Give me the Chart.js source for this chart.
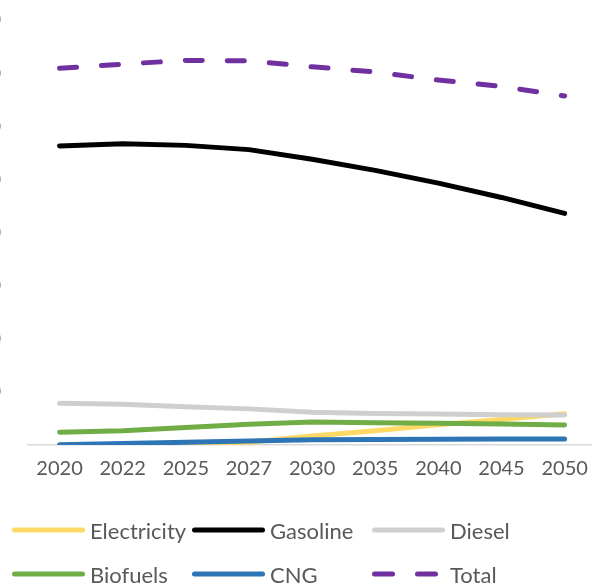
<!DOCTYPE html>
<html>
<head>
<meta charset="utf-8">
<script src="https://cdn.jsdelivr.net/npm/chart.js@4/dist/chart.umd.min.js"></script>
<style>
  html, body { margin: 0; padding: 0; background: #fff; overflow: hidden; }
  body { width: 592px; height: 583px; position: relative; }
  #wrap { position: absolute; left: -40px; top: 0; width: 640px; height: 490px; }
  #legend { position: absolute; left: 0; top: 0; width: 592px; height: 583px; pointer-events: none; }
  .item { position: absolute; display: flex; align-items: center; height: 30px;
          font-family: Lato, "Liberation Sans", sans-serif; font-size: 22px; color: #595959; }
  .item svg { display: block; margin-right: 5px; }
</style>
</head>
<body>
<div id="wrap"><canvas id="chart_fuel"></canvas></div>
<div id="legend"></div>
<script>
const years = ["2020", "2022", "2025", "2027", "2030", "2035", "2040", "2045", "2050"];
const electricity = [0, 0.05, 0.2, 0.5, 1.7, 2.7, 3.8, 4.8, 5.9];
const gasoline = [56.3, 56.7, 56.4, 55.6, 53.8, 51.7, 49.3, 46.6, 43.6];
const diesel = [7.85, 7.65, 7.2, 6.8, 6.15, 5.95, 5.85, 5.7, 5.65];
const biofuels = [2.4, 2.7, 3.3, 3.9, 4.35, 4.2, 4.1, 3.95, 3.75];
const cng = [0.05, 0.3, 0.5, 0.75, 1.0, 1.05, 1.1, 1.13, 1.13];
const total = [70.9, 71.7, 72.4, 72.3, 71.2, 70.2, 68.7, 67.5, 65.7];

const seriesNames = ["Electricity", "Gasoline", "Diesel", "Biofuels", "CNG", "Total"];
const seriesColors = ["#FFD966", "#000000", "#D0CECE", "#70AD47", "#2E75B6", "#7030A0"];
const seriesValues = [electricity, gasoline, diesel, biofuels, cng, total];

const labelFont = { family: "Lato, 'Liberation Sans', sans-serif", size: 20 };

const data = {
    labels: years,
    datasets: seriesNames.map((name, i) => ({
        label: name,
        data: seriesValues[i],
        borderColor: seriesColors[i],
        backgroundColor: seriesColors[i],
        borderWidth: 5,
        borderCapStyle: "round",
        borderJoinStyle: "round",
        borderDash: name === "Total" ? [17, 25] : [],
        pointRadius: 0,
        tension: 0,
        fill: false,
        order: seriesNames.length - i,
    })),
};

const config = {
    type: "line",
    data: data,
    options: {
        responsive: true,
        maintainAspectRatio: false,
        animation: false,
        layout: { padding: { top: 20, right: 3, bottom: 0, left: 0 } },
        plugins: {
            legend: { display: false },
            tooltip: { enabled: false },
        },
        scales: {
            x: {
                offset: true,
                grid: { display: false, drawTicks: false },
                border: { display: true, color: "#D9D9D9", width: 1.5 },
                ticks: { color: "#595959", font: labelFont, padding: 12, maxRotation: 0, autoSkip: false },
                afterFit: (scale) => { scale.height = 45; },
            },
            y: {
                min: 0,
                max: 80,
                grid: { display: false, drawTicks: false },
                border: { display: false },
                ticks: {
                    stepSize: 10,
                    color: "#595959",
                    font: labelFont,
                    padding: 27,
                    callback: (v) => (v === 0 ? "" : v),
                },
                afterFit: (scale) => {
                    scale.width = 68;
                    scale.paddingTop = 0;
                    scale.paddingBottom = 0;
                },
            },
        },
    },
};

const ctxFuel = document.getElementById("chart_fuel");
const fuelChart = new Chart(ctxFuel, config);

// legend laid out in Excel-like columns
const legendEl = document.getElementById("legend");
const colX = [12, 192, 372];
const rowY = [515, 559];
fuelChart.data.datasets.forEach((ds, i) => {
    const item = document.createElement("div");
    item.className = "item";
    item.style.left = colX[i % 3] + "px";
    item.style.top = rowY[Math.floor(i / 3)] + "px";
    const dash = ds.borderDash.length ? `stroke-dasharray="18 25"` : "";
    item.innerHTML =
        `<svg width="73" height="8"><line x1="2.5" y1="4" x2="70.5" y2="4" stroke="${ds.borderColor}" ` +
        `stroke-width="5" stroke-linecap="round" ${dash}/></svg><span>${ds.label}</span>`;
    legendEl.appendChild(item);
});
</script>
</body>
</html>
